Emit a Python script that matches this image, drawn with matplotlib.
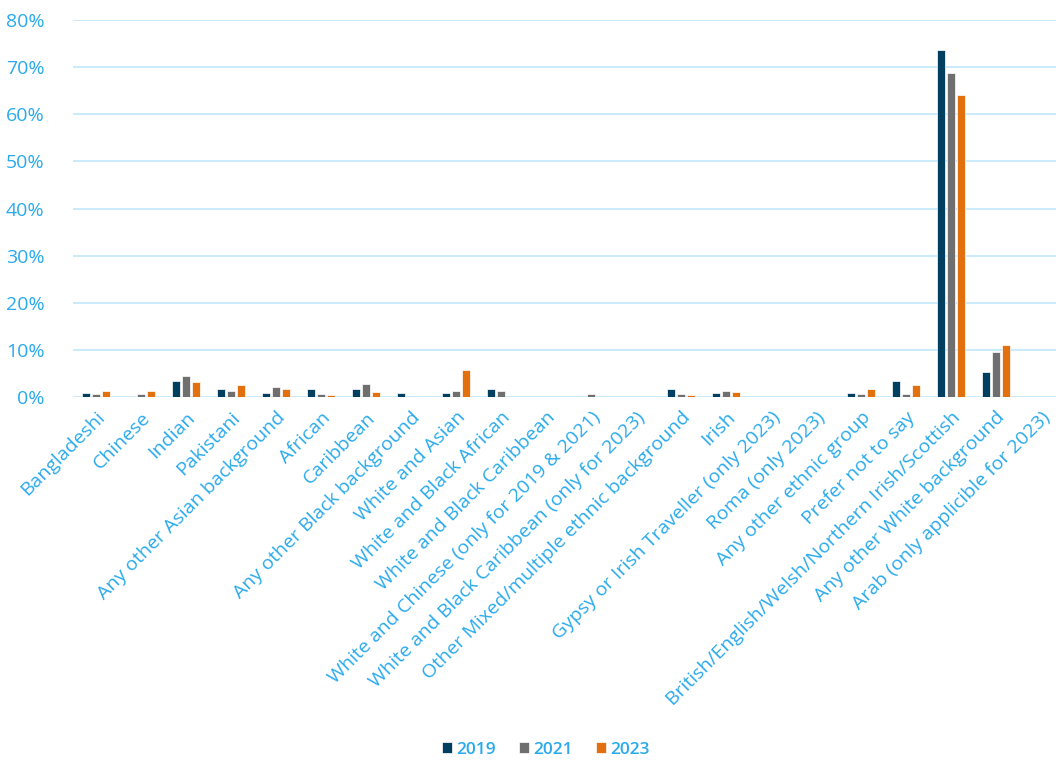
import matplotlib
matplotlib.use("Agg")
import matplotlib.pyplot as plt
import numpy as np
from matplotlib.ticker import FuncFormatter

plt.rcParams['font.family'] = ['Open Sans', 'DejaVu Sans']

categories = [
    "Bangladeshi", "Chinese", "Indian", "Pakistani", "Any other Asian background",
    "African", "Caribbean", "Any other Black background", "White and Asian",
    "White and Black African", "White and Black Caribbean",
    "White and Chinese (only for 2019 & 2021)",
    "White and Black Caribbean (only for 2023)",
    "Other Mixed/multiple ethnic background", "Irish",
    "Gypsy or Irish Traveller (only 2023)", "Roma (only 2023)",
    "Any other ethnic group", "Prefer not to say",
    "British/English/Welsh/Northern Irish/Scottish",
    "Any other White background", "Arab (only applicible for 2023)",
]
years = ["2019", "2021", "2023"]
v2019 = [0.85, 0, 3.5, 1.7, 0.85, 1.7, 1.7, 0.85, 0.85, 1.7, 0, 0, 0, 1.7, 0.85, 0, 0, 0.85, 3.5, 73.5, 5.3, 0]
v2021 = [0.64, 0.64, 4.4, 1.35, 2.1, 0.64, 2.9, 0, 1.35, 1.35, 0, 0.64, 0, 0.64, 1.35, 0, 0, 0.64, 0.64, 68.7, 9.6, 0]
v2023 = [1.27, 1.27, 3.2, 2.6, 1.85, 0.57, 1.2, 0, 5.8, 0, 0, 0, 0, 0.57, 1.2, 0, 0, 1.85, 2.55, 64.0, 11.0, 0]

colors = ["#003F5F", "#6F6F6F", "#E3700F"]
text_blue = "#2AAAEC"
grid_blue = "#C6E9FA"

fig = plt.figure(figsize=(10.56, 7.61), dpi=100)
ax = fig.add_axes([0.0696, 0.478, 0.9375, 0.496])

x = np.arange(len(categories))
w = 0.18
step = 0.222
for i, (vals, c, lab) in enumerate(zip([v2019, v2021, v2023], colors, years)):
    ax.bar(x + (i - 1) * step, vals, width=w, color=c, edgecolor="white",
           linewidth=0.5, label=lab, zorder=3)

ax.set_xlim(-0.5, len(categories) - 0.5)
ax.set_ylim(0, 80)
ax.set_yticks(np.arange(0, 81, 10))
ax.yaxis.set_major_formatter(FuncFormatter(lambda v, p: f"{int(v)}%"))
ax.grid(axis="y", color=grid_blue, linewidth=1.3, zorder=0)
for s in ax.spines.values():
    s.set_visible(False)
ax.tick_params(axis="both", length=0, colors=text_blue, labelsize=14)
ax.tick_params(axis="y", pad=21)
ax.set_xticks(x)
ax.set_xticklabels(categories, rotation=45, ha="right", rotation_mode="anchor",
                   color=text_blue, fontsize=14)
ax.tick_params(axis="x", pad=8)

leg = fig.legend(loc="center", bbox_to_anchor=(0.517, 0.0145), ncol=3, frameon=False,
                 handlelength=0.6, handleheight=0.6, handletextpad=0.25,
                 columnspacing=1.3, prop={"size": 12.5, "weight": "semibold"})
for t in leg.get_texts():
    t.set_color(text_blue)

fig.savefig("out.png", dpi=100)
